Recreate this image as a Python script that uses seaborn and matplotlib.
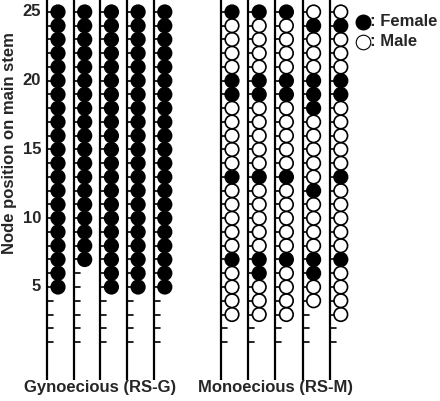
import numpy as np
import pandas as pd
import seaborn as sns
import matplotlib.pyplot as plt

# nodes carrying flowers, per stem
gyno_first = [5, 7, 5, 5, 5]           # first female node on each RS-G stem (female up to 25)
mono_first = [3, 3, 3, 4, 3]           # first flowering node on each RS-M stem
mono_female = [[25, 20, 19, 13, 7],
               [25, 20, 19, 13, 7, 6],
               [25, 20, 19, 13, 7],
               [24, 20, 19, 18, 12, 7, 6],
               [24, 20, 19, 13, 7]]
top_node = 25
group_labels = ['Gynoecious (RS-G)', 'Monoecious (RS-M)']
yticks = [5, 10, 15, 20, 25]

# stem x positions (figure pixels)
gyno_x = 47 + 26.7 * np.arange(5)
mono_x = 221 + 27.2 * np.arange(5)

rows = []
for i, x in enumerate(gyno_x):
    for n in range(gyno_first[i], top_node + 1):
        rows.append((x, n, 'Female'))
for i, x in enumerate(mono_x):
    for n in range(mono_first[i], top_node + 1):
        rows.append((x, n, 'Female' if n in mono_female[i] else 'Male'))
df = pd.DataFrame(rows, columns=['stem', 'node', 'sex'])
df['x'] = df['stem'] + 11

sns.set_style('white')
plt.rcParams['font.family'] = ['Liberation Sans', 'DejaVu Sans']
fig = plt.figure(figsize=(4.4, 4.01), dpi=100)
ax = fig.add_axes([0, 0, 1, 1])
ax.set_xlim(0, 440)
ax.set_ylim(-3.29, 25.87)
ax.axis('off')

# stems and node stubs
for x in np.concatenate([gyno_x, mono_x]):
    ax.plot([x, x], [-1.76, 25.87], color='black', lw=1.6, solid_capstyle='butt')
    for n in range(1, top_node + 1):
        ax.plot([x, x + 6], [n, n], color='black', lw=1.2)

sns.scatterplot(data=df, x='x', y='node', hue='sex',
                palette={'Female': 'black', 'Male': 'white'},
                edgecolor='black', linewidth=1.2, s=95, legend=False, ax=ax, zorder=3)

fs = 12
for t in yticks:
    ax.text(41, t, str(t), ha='right', va='center', fontsize=fs, fontweight='bold')
ax.text(10, 15.5, 'Node position on main stem', rotation=90, ha='center', va='center',
        fontsize=fs, fontweight='bold')
ax.text(100, -3.29 + 13 / 13.75, group_labels[0], ha='center', va='center', fontsize=fs, fontweight='bold')
ax.text(276, -3.29 + 13 / 13.75, group_labels[1], ha='center', va='center', fontsize=fs, fontweight='bold')

# legend
ax.scatter([363], [24.3], s=110, color='black', edgecolor='black', lw=1.0)
ax.scatter([363], [22.85], s=110, color='white', edgecolor='black', lw=0.8)
ax.text(370, 24.3, ': Female', ha='left', va='center', fontsize=fs, fontweight='bold')
ax.text(370, 22.85, ': Male', ha='left', va='center', fontsize=fs, fontweight='bold')

fig.savefig('out.png', dpi=100)
